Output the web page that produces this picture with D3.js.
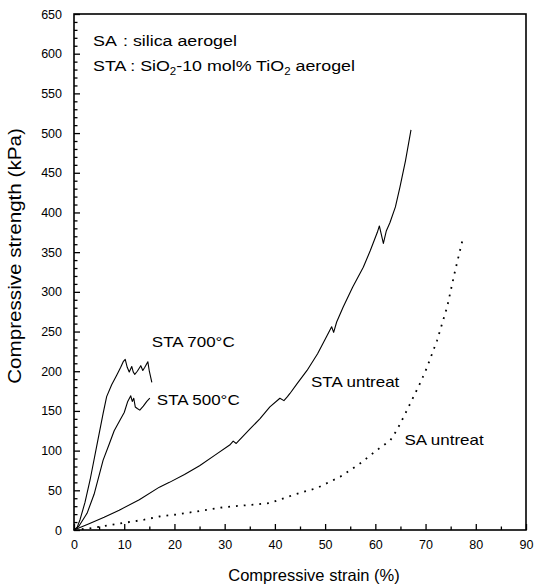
<!DOCTYPE html>
<html><head><meta charset="utf-8">
<script src="https://cdn.jsdelivr.net/npm/d3@7"></script>
<style>
body{margin:0;background:#fff}
text{font-family:"Liberation Sans",Arial,Helvetica,sans-serif;fill:#000}
</style>
</head><body>
<svg id="c" width="535" height="588"></svg>
<script>
// ---- data ----
const xTickValues = [0,10,20,30,40,50,60,70,80,90];
const xMinorTicks = [5,15,25,35,45,55,65,75,85];
const yTickValues = [0,50,100,150,200,250,300,350,400,450,500,550,600,650];
const yMinorTicks = [10,20,30,40,60,70,80,90,110,120,130,140,160,170,180,190,210,220,230,240,260,270,280,290,310,320,330,340,360,370,380,390,410,420,430,440,460,470,480,490,510,520,530,540,560,570,580,590,610,620,630,640];

const sta700Strain = [0,0.6,1.2,2.2,3.2,4.5,5.8,6.5,7.5,8.5,9.3,9.8,10.2,10.6,11.0,11.5,11.8,12.1,12.6,13.3,13.7,14.1,14.7,15.0,15.5];
const sta700Stress = [0,3,13,35,63,105,147,168,183,195,205,212,215,205,199,206,199,196,200,207,201,205,212,200,186];

const sta500Strain = [0,1.0,2.6,4.0,5.8,7.0,8.0,9.2,10.0,10.7,11.3,11.6,11.9,12.2,12.6,13.1,13.8,14.5,15.1];
const sta500Stress = [0,5,21,45,88,108,125,139,148,162,169,162,166,155,153,151,156,162,166];

const staUntreatStrain = [0,3,6,9,13,17,19,22,25,28,31,31.7,32.3,35,37,39,41,41.8,42.5,43,44.5,46.4,48.5,50.4,51.3,51.7,52.3,53.6,55.5,57.6,59,60.4,60.8,61.2,61.6,62.2,62.9,64,64.9,66,67.1];
const staUntreatStress = [0,8,16,25,38,54,60,70,81,94,107,112,109,127,140,155,166,163,168,172,185,201,222,245,256,249,262,281,306,331,352,375,383,372,361,377,387,407,432,465,504];

const saUntreatStrain = [0,3,6,10,14,17,21,25,29,32,36,39,43.6,48.4,53,57,60.4,63,64.3,65.6,67,69,70.3,72.3,74.3,75.9,77.5];
const saUntreatStress = [0,2,5,9,13,17,20,24,28,30,32,34,44,53,67,84,101,113,126,142,160,186,205,239,281,327,369];

const curveLabels = ["STA 700\u00B0C","STA 500\u00B0C","STA untreat","SA untreat"];
const curveLabelX = [15.5, 16.5, 47.2, 65.8];
const curveLabelY = [230, 158, 180, 107];

// ---- layout ----
const svg = d3.select("#c");
const L = 74, R = 526, T = 14, B = 530;
const x = d3.scaleLinear().domain([0,90]).range([L,R]);
const y = d3.scaleLinear().domain([0,650]).range([B,T]);

// axes
svg.append("g").attr("transform",`translate(0,${B})`)
  .call(d3.axisBottom(x).tickValues(xTickValues).tickSize(-6).tickSizeOuter(0).tickPadding(10));
svg.append("g").attr("transform",`translate(0,${B})`)
  .call(d3.axisBottom(x).tickValues(xMinorTicks).tickSize(-3.5).tickSizeOuter(0).tickFormat(""));
svg.append("g").attr("transform",`translate(${L},0)`)
  .call(d3.axisLeft(y).tickValues(yTickValues).tickSize(-6).tickSizeOuter(0).tickPadding(12));
svg.append("g").attr("transform",`translate(${L},0)`)
  .call(d3.axisLeft(y).tickValues(yMinorTicks).tickSize(-3.5).tickSizeOuter(0).tickFormat(""));
svg.selectAll(".tick text").attr("font-size",12.5).attr("font-family","Liberation Sans, Arial, sans-serif");
svg.selectAll(".tick line").attr("stroke","#000").attr("stroke-width",1.3);
svg.selectAll(".domain").remove();

// frame
svg.append("rect").attr("x",L).attr("y",T).attr("width",R-L).attr("height",B-T)
  .attr("fill","none").attr("stroke","#000").attr("stroke-width",1.6);

// series
const line = d3.line().x(d=>x(d[0])).y(d=>y(d[1]));
function draw(xs, ys, dash){
  svg.append("path").datum(xs.map((v,i)=>[v,ys[i]]))
    .attr("d",line).attr("fill","none").attr("stroke","#000")
    .attr("stroke-width", dash ? 1.8 : 1.1)
    .attr("stroke-dasharray", dash || null)
    .attr("stroke-linejoin","round");
}
draw(sta700Strain, sta700Stress);
draw(sta500Strain, sta500Stress);
draw(staUntreatStrain, staUntreatStress);
draw(saUntreatStrain, saUntreatStress, "1.8,6");

// curve labels (reference type is slightly wide)
curveLabels.forEach((t,i)=>{
  svg.append("text")
    .attr("transform",`translate(${x(curveLabelX[i])},${y(curveLabelY[i])}) scale(1.17,1)`)
    .attr("font-size",14.5).text(t);
});

// legend text
const fs = 15.5, sx = 1.15;
svg.append("text").attr("transform",`translate(93,46) scale(${sx},1)`).attr("font-size",fs).text("SA");
svg.append("text").attr("transform",`translate(123,46) scale(${sx},1)`).attr("font-size",fs).text(": silica aerogel");
const t2 = svg.append("text").attr("transform",`translate(93,71) scale(${sx},1)`).attr("font-size",fs);
t2.append("tspan").text("STA : SiO");
t2.append("tspan").attr("font-size",10).attr("dy",4).text("2");
t2.append("tspan").attr("dy",-4).text("-10 mol% TiO");
t2.append("tspan").attr("font-size",10).attr("dy",4).text("2");
t2.append("tspan").attr("dy",-4).text(" aerogel");

// axis titles
svg.append("text").attr("x",314).attr("y",581).attr("text-anchor","middle")
  .attr("font-size",16.5).text("Compressive strain (%)");
svg.append("text").attr("transform",`translate(21,256) rotate(-90) scale(1.18,1)`)
  .attr("text-anchor","middle").attr("font-size",17.5).text("Compressive strength (kPa)");
</script>
</body></html>
